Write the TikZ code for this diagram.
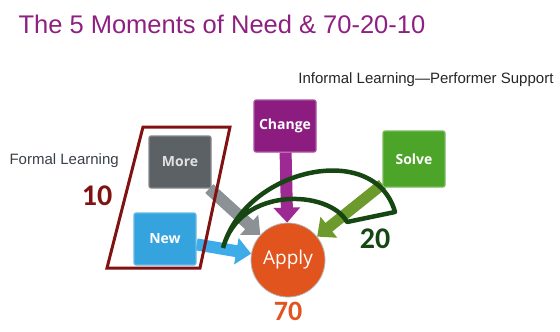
\documentclass[tikz,border=0pt]{standalone}
\usepackage{fontspec}
\setmainfont{Liberation Sans}
\newfontfamily\boxfont{Open Sans}
\newfontfamily\numfont{Carlito}
\usetikzlibrary{arrows.meta, positioning, backgrounds}

\definecolor{titlepurple}{RGB}{142,32,130}
\definecolor{moregray}{RGB}{92,97,102}
\definecolor{moregrayarrow}{RGB}{140,145,150}
\definecolor{newblue}{RGB}{52,163,222}
\definecolor{newbluearrow}{RGB}{62,172,232}
\definecolor{changepurple}{RGB}{140,28,128}
\definecolor{changepurplearrow}{RGB}{156,42,146}
\definecolor{solvegreen}{RGB}{76,164,40}
\definecolor{solvegreenarrow}{RGB}{108,154,44}
\definecolor{applyorange}{RGB}{226,84,30}
\definecolor{formalred}{RGB}{128,18,18}
\definecolor{informalgreen}{RGB}{22,70,18}
\definecolor{captiongray}{RGB}{58,64,72}

\begin{document}
\begin{tikzpicture}[
    x=1pt, y=-1pt,
    moment/.style={rectangle, rounded corners=2pt, minimum width=62pt, minimum height=52pt,
        fill=#1, draw=#1!75!white, line width=1.2pt, text=white,
        font=\boxfont\bfseries\fontsize{14}{16}\selectfont},
    feed/.style={draw=#1, line width=12pt, -{Triangle[width=26pt, length=15pt]}},
    share/.style={font=\numfont\bfseries\fontsize{30}{30}\selectfont},
    caption/.style={font=\fontsize{15}{17}\selectfont}
]
    \useasboundingbox (0,0) rectangle (560,332);

    % heading and the two kinds of learning
    \node[anchor=base west, text=titlepurple, font=\fontsize{25.5}{30}\selectfont] (title) at (15,33) {The 5 Moments of Need \& 70-20-10};
    \node[caption, anchor=base east, text=black!85] (informal) at (557,83) {Informal Learning---Performer Support};
    \node[caption, anchor=base west, text=captiongray] (formal) at (6,164) {Formal Learning};

    % the five moments
    \node[moment=moregray, text=black!12] (more) at (180,162) {More};
    \node[moment=newblue] (new) at (165,239) {New};
    \node[moment=changepurple] (change) at (285,126) {Change};
    \node[moment=solvegreen, minimum height=56pt] (solve) at (414,159) {Solve};
    \node[circle, minimum size=74pt, fill=applyorange, draw=black!30, line width=0.8pt, text=white,
        font=\boxfont\fontsize{19}{21}\selectfont] (apply) at (288,260) {Apply};

    % shares of 70-20-10
    \node[share, text=formalred] (ten) at (97,196) {10};
    \node[share, text=informalgreen] (twenty) at (375,239) {20};
    \node[share, text=applyorange, font=\numfont\bfseries\fontsize{28}{28}\selectfont,
        inner sep=0pt, below=5pt of apply] (seventy) {70};

    % block arrows into Apply, kept behind the boxes
    \begin{scope}[on background layer]
        \draw[feed=moregrayarrow] (more) -- (apply);
        \draw[feed=newbluearrow] (new) -- (apply);
        \draw[feed=changepurplearrow] (change) -- (apply);
        \draw[feed=solvegreenarrow, line width=11pt] (solve) -- (apply);
    \end{scope}

    % formal learning frame
    \draw[formalred, line width=3pt, line join=miter]
        (143,127) -- (230,127) -- (200,268) -- (107,268) -- cycle;

    % informal learning sweep
    \coordinate (tail) at (223,248);
    \coordinate (outer) at (395,212);
    \coordinate (inner) at (347,222);
    \draw[informalgreen, line width=4.5pt, line join=round]
        (tail) .. controls (245,168) and (375,140) .. (outer)
        -- (inner) .. controls (330,190) and (240,185) .. (tail);
\end{tikzpicture}
\end{document}
